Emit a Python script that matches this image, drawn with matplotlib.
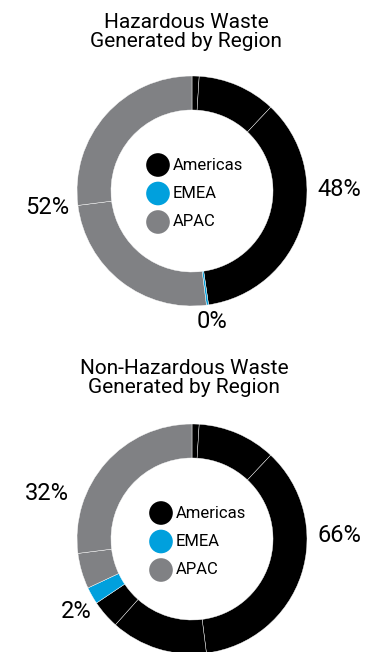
import numpy as np
import matplotlib.pyplot as plt

plt.rcParams['font.family'] = ['Roboto', 'DejaVu Sans']

regions = ['Americas', 'EMEA', 'APAC']
colors = ['#000000', '#00a0dd', '#808184']

# share of waste per site, grouped by region (percent)
haz_americas = [1.0, 11.0, 35.7]
haz_emea = [0.3]
haz_apac = [25.0, 27.0]

nonhaz_americas = [1.0, 11.0, 36.0, 13.6, 4.0]
nonhaz_emea = [2.4]
nonhaz_apac = [5.0, 27.0]

titles = ['Hazardous Waste\nGenerated by Region',
          'Non-Hazardous Waste\nGenerated by Region']

W, H = 366, 652
fig = plt.figure(figsize=(W / 100, H / 100), dpi=100)
ax = fig.add_axes([0, 0, 1, 1])


def donut(groups, center, label_pos, legend_dx=0):
    sizes, cols = [], []
    for g, c in zip(groups, colors):
        sizes += g
        cols += [c] * len(g)
    ax.pie(sizes, colors=cols, center=center, radius=115, startangle=90,
           counterclock=False, frame=True,
           wedgeprops=dict(width=34, edgecolor='white', linewidth=0.3))
    cx, cy = center
    totals = [sum(g) for g in groups]
    for t, (lx, ly) in zip(totals, label_pos):
        ax.text(lx, ly, f'{round(t)}%', fontsize=17, ha='center', va='center')
    for i, (name, c) in enumerate(zip(regions, colors)):
        y = cy + 26 - 28.5 * i
        ax.scatter(cx - 34 + legend_dx, y, s=290, color=c,
                   edgecolors='none', zorder=5)
        ax.text(cx - 19 + legend_dx, y, name, fontsize=12,
                ha='left', va='center')


donut([haz_americas, haz_emea, haz_apac], (192, 461),
      [(339, 463), (212, 330), (47, 444)])
donut([nonhaz_americas, nonhaz_emea, nonhaz_apac], (192, 113),
      [(339, 116), (76, 41), (47, 158)], legend_dx=3)

ax.text(186, 620, titles[0], fontsize=15, ha='center', va='center',
        linespacing=1.05)
ax.text(184, 274, titles[1], fontsize=15, ha='center', va='center',
        linespacing=1.05)

ax.set_xlim(0, W)
ax.set_ylim(0, H)
ax.set_aspect('equal')
ax.axis('off')

fig.savefig('out.png', dpi=100)
